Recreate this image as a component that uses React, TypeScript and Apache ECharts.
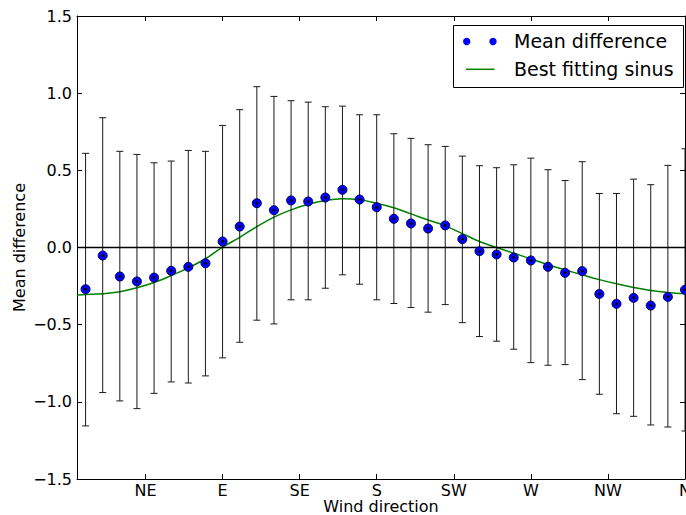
import React, { useEffect, useRef } from "react";
import * as echarts from "echarts";

// Wind direction bins (degrees)
const directions = [10, 20, 30, 40, 50, 60, 70, 80, 90, 100, 110, 120, 130, 140, 150, 160, 170, 180,
  190, 200, 210, 220, 230, 240, 250, 260, 270, 280, 290, 300, 310, 320, 330, 340, 350, 360];

// Mean difference per bin
const meanDiff = [-0.27, -0.052, -0.188, -0.22, -0.195, -0.151, -0.125, -0.102, 0.039, 0.136, 0.287, 0.242,
  0.305, 0.298, 0.324, 0.374, 0.311, 0.261, 0.186, 0.156, 0.123, 0.143, 0.054, -0.024,
  -0.045, -0.065, -0.084, -0.125, -0.164, -0.153, -0.301, -0.365, -0.326, -0.376, -0.32, -0.274];

// Error bar extents per bin
const errHigh = [0.61, 0.841, 0.623, 0.603, 0.549, 0.56, 0.629, 0.623, 0.791, 0.893, 1.042, 0.979,
  0.951, 0.942, 0.912, 0.916, 0.86, 0.86, 0.737, 0.707, 0.666, 0.655, 0.592, 0.53,
  0.517, 0.536, 0.579, 0.504, 0.434, 0.556, 0.35, 0.35, 0.443, 0.407, 0.532, 0.64];
const errLow = [-1.156, -0.94, -0.994, -1.044, -0.945, -0.871, -0.878, -0.832, -0.715, -0.614, -0.471, -0.495,
  -0.339, -0.339, -0.264, -0.177, -0.238, -0.339, -0.363, -0.389, -0.419, -0.37, -0.487, -0.577,
  -0.607, -0.659, -0.746, -0.763, -0.759, -0.856, -0.951, -1.077, -1.094, -1.15, -1.163, -1.189];

// Best fitting sinus, sampled along the direction axis
const fitAngles = [5, 10, 20, 30, 40, 50, 60, 70, 80, 90, 100, 110, 120, 130, 140, 150, 160, 170, 180,
  190, 200, 210, 220, 230, 240, 250, 260, 270, 280, 290, 300, 310, 320, 330, 340, 350, 360];
const fitValues = [-0.307, -0.305, -0.3, -0.287, -0.261, -0.227, -0.182, -0.132, -0.073, 0.002, 0.066, 0.135,
  0.197, 0.244, 0.28, 0.305, 0.316, 0.309, 0.287, 0.257, 0.218, 0.178, 0.14, 0.09, 0.039, 0.0,
  -0.037, -0.073, -0.112, -0.145, -0.177, -0.208, -0.235, -0.259, -0.279, -0.292, -0.3];

// Compass tick positions and labels
const compassTicks = [45, 90, 135, 180, 225, 270, 315, 360];
const compassLabels = ["NE", "E", "SE", "S", "SW", "W", "NW", "N"];

const FONT = "DejaVu Sans";

export default function App() {
  const ref = useRef<HTMLDivElement>(null);

  useEffect(() => {
    if (!ref.current) return;
    const chart = echarts.init(ref.current, null, { renderer: "svg" });

    const fmtY = (v: number) => (v < 0 ? "\u2212" : "") + Math.abs(v).toFixed(1);
    const fmtX = (v: number) => {
      const i = compassTicks.indexOf(v);
      return i >= 0 ? compassLabels[i] : "";
    };

    const axisLine = { show: true, onZero: false, lineStyle: { color: "#000", width: 1 } };
    const tick = { show: true, inside: true, length: 5, lineStyle: { color: "#000", width: 1 } };

    const option: any = {
      animation: false,
      backgroundColor: "#fff",
      grid: {
        left: 77,
        right: 1,
        top: 16,
        bottom: 36,
        containLabel: false,
        outerBoundsMode: "none",
      },
      xAxis: [
        {
          type: "value",
          position: "bottom",
          min: 5,
          max: 360,
          name: "Wind direction",
          nameLocation: "middle",
          nameGap: 19.5,
          nameMoveOverlap: false,
          nameTextStyle: { fontFamily: FONT, fontSize: 16, color: "#000" },
          axisLine,
          axisTick: { ...tick, customValues: compassTicks },
          axisLabel: {
            customValues: compassTicks,
            formatter: fmtX,
            fontFamily: FONT,
            fontSize: 16,
            color: "#000",
            margin: 3,
          },
          splitLine: { show: false },
        },
        {
          type: "value",
          position: "top",
          min: 5,
          max: 360,
          axisLine,
          axisTick: { ...tick, customValues: compassTicks },
          axisLabel: { show: false },
          splitLine: { show: false },
        },
      ],
      yAxis: [
        {
          type: "value",
          position: "left",
          min: -1.5,
          max: 1.5,
          interval: 0.5,
          name: "Mean difference",
          nameLocation: "middle",
          nameGap: 50,
          nameMoveOverlap: false,
          nameTextStyle: { fontFamily: FONT, fontSize: 16, color: "#000" },
          axisLine,
          axisTick: tick,
          axisLabel: { formatter: fmtY, fontFamily: FONT, fontSize: 16, color: "#000", margin: 5 },
          splitLine: { show: false },
        },
        {
          type: "value",
          position: "right",
          min: -1.5,
          max: 1.5,
          interval: 0.5,
          axisLine,
          axisTick: tick,
          axisLabel: { show: false },
          splitLine: { show: false },
        },
      ],
      series: [
        {
          name: "Best fitting sinus",
          type: "line",
          data: fitAngles.map((a, i) => [a, fitValues[i]]),
          smooth: 0.4,
          showSymbol: false,
          lineStyle: { color: "#008000", width: 1.5 },
          z: 3,
          markLine: {
            silent: true,
            symbol: ["none", "none"],
            label: { show: false },
            lineStyle: { color: "#000", type: "solid", width: 1.3 },
            data: [{ yAxis: 0 }],
          },
        },
        {
          name: "errorbars",
          type: "custom",
          data: directions.map((d, i) => [d, errLow[i], errHigh[i]]),
          encode: { x: 0, y: [1, 2] },
          clip: false,
          z: 4,
          renderItem: (_params: any, api: any) => {
            const x = api.value(0);
            const lo = api.coord([x, api.value(1)]);
            const hi = api.coord([x, api.value(2)]);
            const cap = 3.5;
            const style = { stroke: "#1a1a1a", lineWidth: 1 };
            return {
              type: "group",
              children: [
                { type: "line", shape: { x1: lo[0], y1: lo[1], x2: hi[0], y2: hi[1] }, style },
                { type: "line", shape: { x1: hi[0] - cap, y1: hi[1], x2: hi[0] + cap, y2: hi[1] }, style },
                { type: "line", shape: { x1: lo[0] - cap, y1: lo[1], x2: lo[0] + cap, y2: lo[1] }, style },
              ],
            };
          },
        },
        {
          name: "Mean difference",
          type: "scatter",
          data: directions.map((d, i) => [d, meanDiff[i]]),
          symbol: "circle",
          symbolSize: 9,
          itemStyle: { color: "#0000ff", borderColor: "#00004d", borderWidth: 1, opacity: 1 },
          clip: false,
          z: 5,
        },
        {
          name: "centers",
          type: "scatter",
          data: directions.map((d, i) => [d, meanDiff[i]]),
          symbol: "circle",
          symbolSize: 3,
          itemStyle: { color: "#000", opacity: 1 },
          clip: false,
          z: 6,
        },
      ],
      graphic: [
        {
          type: "group",
          z: 100,
          children: [
            {
              type: "rect",
              shape: { x: 453.5, y: 25.5, width: 230, height: 62 },
              style: { fill: "#fff", stroke: "#000", lineWidth: 1 },
            },
            { type: "circle", shape: { cx: 466.7, cy: 41.5, r: 3.7 }, style: { fill: "#0000ff" } },
            { type: "circle", shape: { cx: 493, cy: 41.5, r: 3.7 }, style: { fill: "#0000ff" } },
            {
              type: "line",
              shape: { x1: 466, y1: 69.3, x2: 494.5, y2: 69.3 },
              style: { stroke: "#008000", lineWidth: 1.5 },
            },
            {
              type: "text",
              x: 514,
              y: 41,
              style: {
                text: "Mean difference",
                font: `19px "${FONT}"`,
                fill: "#000",
                textVerticalAlign: "middle",
              },
            },
            {
              type: "text",
              x: 514,
              y: 69,
              style: {
                text: "Best fitting sinus",
                font: `19px "${FONT}"`,
                fill: "#000",
                textVerticalAlign: "middle",
              },
            },
          ],
        },
      ],
    };

    chart.setOption(option);
    return () => chart.dispose();
  }, []);

  return (
    <div
      ref={ref}
      style={{ position: "fixed", left: 0, top: 0, width: 686, height: 515, background: "#fff" }}
    />
  );
}
